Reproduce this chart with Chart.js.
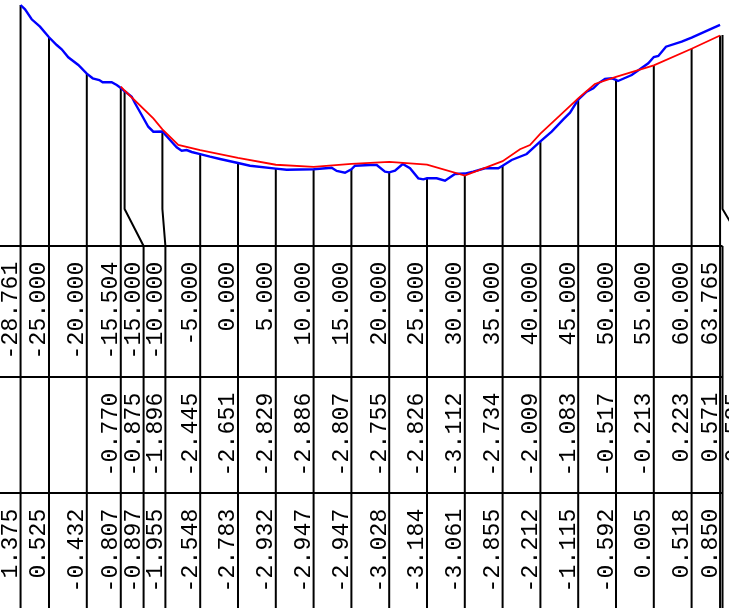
<!DOCTYPE html>
<html><head><meta charset="utf-8">
<script src="https://cdn.jsdelivr.net/npm/chart.js@4/dist/chart.umd.min.js"></script>
<style>html,body{margin:0;padding:0;background:#fff;overflow:hidden}#wrap{width:729px;height:608px;position:relative}</style>
</head><body><div id="wrap"><canvas id="c"></canvas></div>
<script>
// Stations (offsets) with ground and design elevations shown in the table
const stationOffsets = [-28.761, -25, -20, -15.504, -15, -10, -5, 0, 5, 10, 15, 20, 25, 30, 35, 40, 45, 50, 55, 60, 63.765];
const groundAtStation = [1.375, 0.525, -0.432, -0.807, -0.897, -1.955, -2.548, -2.783, -2.932, -2.947, -2.947, -3.028, -3.184, -3.061, -2.855, -2.212, -1.115, -0.592, 0.005, 0.518, 0.850];
const designAtStation = [null, null, null, -0.770, -0.875, -1.896, -2.445, -2.651, -2.829, -2.886, -2.807, -2.755, -2.826, -3.112, -2.734, -2.009, -1.083, -0.517, -0.213, 0.223, 0.571];
// extra design-only column at the right edge
const extraOffsets = [64.09];
const extraDesign = [0.585];

// Ground (natural surface) polyline
const groundX = [-28.761, -28.17, -27.29, -26.19, -25, -23.98, -23.32, -22.45, -21.12, -20, -19.22, -18.35, -17.90, -16.71, -16.04, -15.504, -15, -14.72, -14.06, -13.62, -12.74, -11.87, -11.20, -10, -8.99, -8.11, -7.45, -6.79, -6.12, -5, -3.70, -2.38, 0, 1.59, 5, 6.44, 10, 12.39, 13.06, 14.15, 15, 15.48, 17.46, 18.35, 19.44, 20, 20.77, 21.79, 22.75, 23.85, 24.51, 25, 26.28, 27.38, 28.70, 30, 31.12, 32.67, 34.43, 35, 36.20, 38.19, 40, 41.49, 43.03, 43.92, 45, 46.12, 47.00, 47.66, 48.54, 49.43, 50, 50.26, 52.08, 54.27, 55, 55.60, 56.61, 58.69, 60, 62.43, 63.765];
const groundY = [1.375, 1.262, 0.999, 0.804, 0.525, 0.322, 0.209, -0.001, -0.204, -0.432, -0.554, -0.599, -0.659, -0.659, -0.730, -0.807, -0.897, -0.933, -1.038, -1.212, -1.520, -1.828, -1.959, -1.955, -2.178, -2.370, -2.459, -2.441, -2.493, -2.548, -2.617, -2.678, -2.783, -2.854, -2.932, -2.959, -2.947, -2.907, -2.993, -3.038, -2.947, -2.854, -2.836, -2.836, -3.012, -3.028, -2.986, -2.809, -2.922, -3.186, -3.212, -3.184, -3.186, -3.249, -3.072, -3.061, -3.012, -2.922, -2.922, -2.855, -2.704, -2.546, -2.212, -1.959, -1.633, -1.459, -1.115, -0.907, -0.817, -0.686, -0.572, -0.554, -0.592, -0.625, -0.467, -0.159, 0.005, 0.033, 0.278, 0.409, 0.518, 0.736, 0.850];

// Design polyline
const designX = [-15.504, -15, -11.2, -10, -7.9, -5, 0, 5, 10, 15, 20, 25, 30, 35, 37.3, 38.62, 40, 45, 47.2, 50, 55, 60, 63.765];
const designY = [-0.770, -0.875, -1.607, -1.896, -2.309, -2.445, -2.651, -2.829, -2.886, -2.807, -2.755, -2.826, -3.112, -2.734, -2.422, -2.309, -2.009, -1.083, -0.704, -0.517, -0.213, 0.223, 0.571];

const fmt = v => (v === null || v === undefined) ? '' : v.toFixed(3);
const pts = (xs, ys) => xs.slice(0, Math.min(xs.length, ys.length)).map((v, i) => ({x: v, y: ys[i]}));

const sectionPlugin = {
  id: 'section',
  beforeDatasetsDraw(chart) {
    const {ctx, chartArea: a, scales: {x, y}} = chart;
    const top = a.bottom;
    const bendY = top - 37;
    const nudge = {4: 19, 5: 3};
    ctx.save();
    ctx.strokeStyle = '#000';
    ctx.lineWidth = 2;
    stationOffsets.forEach((s, i) => {
      const g = groundAtStation[i], d = designAtStation[i];
      const lo = (d === null) ? g : Math.min(g, d);
      const px = x.getPixelForValue(s);
      const py = y.getPixelForValue(lo);
      const cx = px + (nudge[i] || 0);
      ctx.beginPath();
      ctx.moveTo(px, py);
      if (nudge[i]) { ctx.lineTo(px, bendY); ctx.lineTo(cx, top); }
      else ctx.lineTo(px, top);
      ctx.stroke();
    });
    extraOffsets.forEach((s, i) => {
      const px = x.getPixelForValue(s);
      const py = y.getPixelForValue(extraDesign[i]);
      ctx.beginPath();
      ctx.moveTo(px, py); ctx.lineTo(px, bendY); ctx.lineTo(px + 22, top);
      ctx.stroke();
    });
    ctx.restore();
  },
  afterDraw(chart) {
    const {ctx, chartArea: a, scales: {x}} = chart;
    const top = a.bottom;
    const rows = [top, top + 131, top + 247];
    const bottom = chart.height;
    const nudge = {4: 19, 5: 3};
    const rightX = x.getPixelForValue(extraOffsets[0]);
    ctx.save();
    ctx.strokeStyle = '#000';
    ctx.lineWidth = 2;
    rows.forEach(r => { ctx.beginPath(); ctx.moveTo(0, r); ctx.lineTo(rightX, r); ctx.stroke(); });
    const cols = stationOffsets.map((s, i) => x.getPixelForValue(s) + (nudge[i] || 0));
    cols.concat([rightX]).forEach(cx => { ctx.beginPath(); ctx.moveTo(cx, top); ctx.lineTo(cx, bottom); ctx.stroke(); });
    ctx.fillStyle = '#000';
    ctx.font = '23px "Liberation Mono", "DejaVu Sans Mono", monospace';
    try { ctx.letterSpacing = '0.2px'; } catch (e) {}
    const label = (txt, cx, ry) => {
      if (!txt) return;
      ctx.save();
      ctx.translate(cx - 3.5, ry + 15.5);
      ctx.rotate(-Math.PI / 2);
      ctx.textAlign = 'right';
      ctx.textBaseline = 'alphabetic';
      ctx.fillText(txt, 0, 0);
      ctx.restore();
    };
    cols.forEach((cx, i) => {
      label(fmt(stationOffsets[i]), cx, rows[0]);
      label(fmt(designAtStation[i]), cx, rows[1]);
      label(fmt(groundAtStation[i]), cx, rows[2]);
    });
    extraOffsets.forEach((s, i) => {
      label(fmt(extraDesign[i]), x.getPixelForValue(s) + 22, rows[1]);
    });
    ctx.restore();
  }
};

new Chart(document.getElementById('c'), {
  type: 'scatter',
  data: {
    datasets: [
      {label: 'design', data: pts(designX, designY), showLine: true, borderColor: '#ff0000', borderWidth: 1.8, pointRadius: 0, tension: 0, fill: false},
      {label: 'ground', data: pts(groundX, groundY), showLine: true, borderColor: '#0000ff', borderWidth: 2.4, pointRadius: 0, tension: 0, fill: false}
    ]
  },
  options: {
    responsive: true,
    maintainAspectRatio: false,
    animation: false,
    layout: {padding: {left: 0, right: 0, top: 0, bottom: 362}},
    plugins: {legend: {display: false}, tooltip: {enabled: false}},
    scales: {
      x: {type: 'linear', display: false, min: -31.481, max: 64.947},
      y: {type: 'linear', display: false, min: -4.967, max: 1.5066}
    }
  },
  plugins: [sectionPlugin]
});
</script>
</body></html>
